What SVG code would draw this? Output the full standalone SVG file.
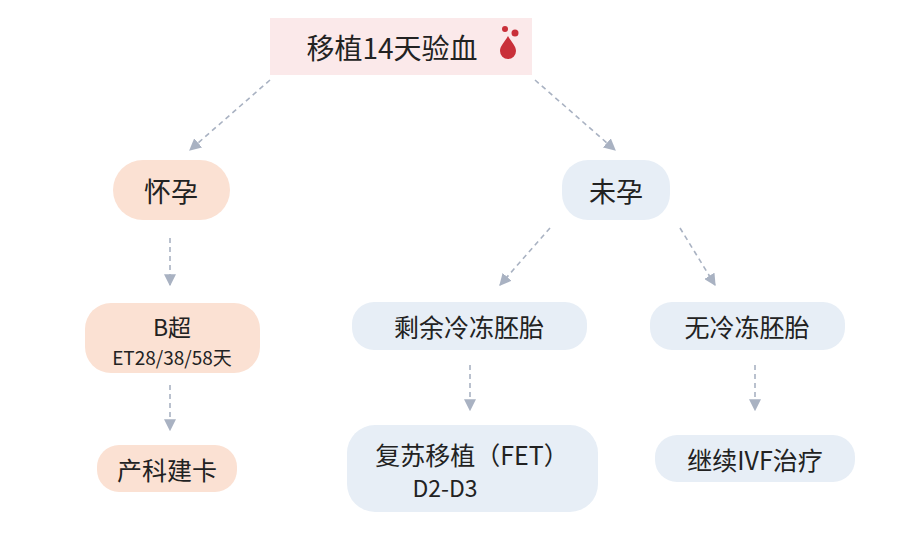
<svg xmlns="http://www.w3.org/2000/svg" width="900" height="540" viewBox="0 0 900 540">
<defs>
<style>
.t{font-family:"Noto Sans CJK SC","Noto Sans",sans-serif;fill:#222;text-anchor:middle;dominant-baseline:central}
.c{stroke:#a9b2c2;stroke-width:1.6;stroke-dasharray:5 4;fill:none;marker-end:url(#ah)}
.pk{fill:#fbe1d3}.bl{fill:#e7eef6}
</style>
<marker id="ah" viewBox="0 0 10 10" refX="9" refY="5" markerWidth="12" markerHeight="12" orient="auto-start-reverse" markerUnits="userSpaceOnUse"><path d="M0,0L10,5L0,10z" fill="#a9b2c2"/></marker>
</defs>
<rect width="900" height="540" fill="#fff"/>
<g id="connectors">
<path class="c" d="M270,80L190,150"/>
<path class="c" d="M535,80L615,150"/>
<path class="c" d="M170,238V285"/>
<path class="c" d="M550,228L500,285"/>
<path class="c" d="M680,228L715,285"/>
<path class="c" d="M170,385V430"/>
<path class="c" d="M470,365V410"/>
<path class="c" d="M755,365V410"/>
</g>
<g id="n-top"><rect x="270" y="18" width="262" height="57" fill="#fbe9ea"/><text class="t" x="392" y="47" font-size="28">移植14天验血</text>
<path d="M508,36c-4,7-8,10-8,15a8,8 0 0 0 16,0c0-5-4-8-8-15z" fill="#c9303a"/><circle cx="505" cy="29" r="3" fill="#c9303a"/><circle cx="515" cy="33" r="3.5" fill="#c9303a"/></g>
<g id="n-pregnant"><rect class="pk" x="113" y="160" width="117" height="60" rx="30"/><text class="t" x="171" y="190" font-size="27">怀孕</text></g>
<g id="n-notpregnant"><rect class="bl" x="562" y="160" width="108" height="60" rx="26"/><text class="t" x="616" y="190" font-size="27">未孕</text></g>
<g id="n-bus"><rect class="pk" x="85" y="303" width="175" height="70" rx="26"/><text class="t" x="172" y="326" font-size="23">B超</text><text class="t" x="172" y="356" font-size="19">ET28/38/58天</text></g>
<g id="n-card"><rect class="pk" x="97" y="445" width="140" height="47" rx="22"/><text class="t" x="167" y="469" font-size="25">产科建卡</text></g>
<g id="n-frozen"><rect class="bl" x="352" y="302" width="235" height="48" rx="22"/><text class="t" x="469" y="326" font-size="25">剩余冷冻胚胎</text></g>
<g id="n-nofrozen"><rect class="bl" x="650" y="302" width="195" height="48" rx="22"/><text class="t" x="747" y="326" font-size="25">无冷冻胚胎</text></g>
<g id="n-fet"><rect class="bl" x="347" y="425" width="251" height="87" rx="28"/><text class="t" x="472" y="454" font-size="25">复苏移植（FET）</text><text class="t" x="445" y="487" font-size="23">D2-D3</text></g>
<g id="n-ivf"><rect class="bl" x="655" y="435" width="200" height="47" rx="22"/><text class="t" x="755" y="459" font-size="25">继续IVF治疗</text></g>
</svg>
